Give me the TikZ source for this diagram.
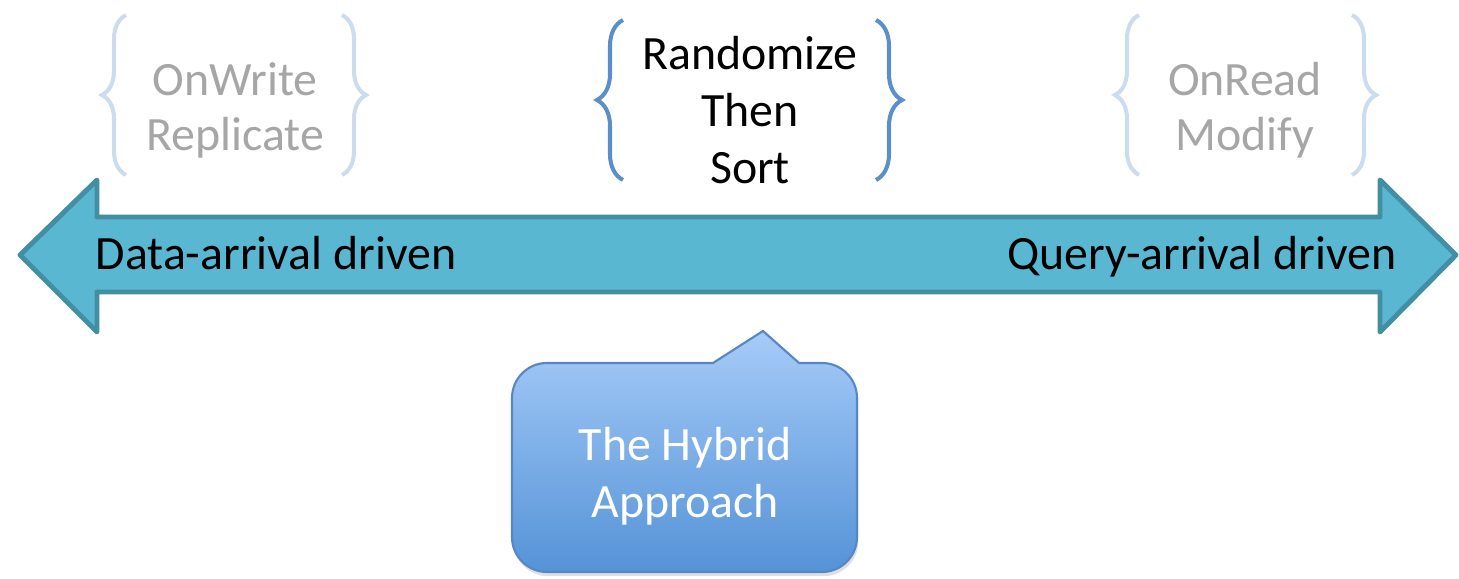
\documentclass[tikz,border=0pt]{standalone}
\usepackage{fontspec}
\setmainfont{Carlito}
\usepackage{tikz}
\usetikzlibrary{
    decorations.pathreplacing,
    shadows,
    calc,
    positioning
}
\definecolor{arrowfill}{HTML}{5AB7D2}
\definecolor{arrowline}{HTML}{418FA1}
\definecolor{bracedark}{HTML}{5A8FCB}
\definecolor{bracelight}{HTML}{CCDCEF}
\definecolor{fadedgray}{HTML}{A6A6A6}
\definecolor{callouttop}{HTML}{A6CBF8}
\definecolor{calloutbottom}{HTML}{5593D7}
\definecolor{calloutline}{HTML}{5687C4}
\tikzset{
    arrowbar/.style={fill=arrowfill, draw=arrowline, line width=1.4pt, line join=round},
    sidelabel/.style={font=\fontsize{13.6}{16.2}\selectfont, inner sep=0pt},
    midtext/.style={font=\fontsize{13.6}{16.2}\selectfont, align=center, inner sep=0pt},
    fadedtext/.style={font=\fontsize{13.6}{15.6}\selectfont, align=center, inner sep=0pt, text=fadedgray},
    midbrace/.style={draw=bracedark, line width=1.15pt, decorate, decoration={brace, amplitude=0.26cm}},
    fadedbrace/.style={draw=bracelight, line width=1.15pt, decorate, decoration={brace, amplitude=0.24cm}},
    callout/.style={draw=calloutline, line width=0.6pt, top color=callouttop, bottom color=calloutbottom,
        drop shadow={opacity=0.25, shadow xshift=0.4pt, shadow yshift=-1.2pt}},
    callouttext/.style={font=\fontsize{13.6}{16.2}\selectfont, align=center, inner sep=0pt, text=white}
}

\begin{document}
\begin{tikzpicture}[x=0.01cm, y=0.01cm]
                        \useasboundingbox (0, 0) rectangle (1459, 579);
                        \path[arrowbar]
                        (20, 324) -- (97, 399) -- (97, 362) -- (1380, 362) -- (1380, 399) -- (1456, 324)
                        -- (1380, 247) -- (1380, 287) -- (97, 287) -- (97, 247) -- cycle;
                        \node[sidelabel, anchor=base west] (dataarrival) at (95, 309) {Data-arrival driven};
                        \node[sidelabel, anchor=base east] (queryarrival) at (1397, 309) {Query-arrival driven};
                        \node[fadedtext] (onwrite) at (235, 469) {OnWrite\\Replicate};
                        \node[midtext] (randomize) at (750, 469) {Randomize\\Then\\Sort};
                        \node[fadedtext] (onread) at (1245, 469) {OnRead\\Modify};
                        \draw[fadedbrace] (126, 404) -- (126, 564);
                        \draw[fadedbrace] (342, 564) -- (342, 404);
                        \draw[midbrace] (623, 399) -- (623, 559);
                        \draw[midbrace] (876, 559) -- (876, 399);
                        \draw[fadedbrace] (1139, 404) -- (1139, 564);
                        \draw[fadedbrace] (1352, 564) -- (1352, 404);
                        \path[callout]
                        (713, 216) -- (763, 248) -- (799, 216) -- (822, 216)
                        arc[start angle=90, end angle=0, radius=0.35cm] -- (857, 42)
                        arc[start angle=0, end angle=-90, radius=0.35cm] -- (547, 7)
                        arc[start angle=270, end angle=180, radius=0.35cm] -- (512, 181)
                        arc[start angle=180, end angle=90, radius=0.35cm] -- cycle;
                        \node[callouttext] (hybrid) at (685, 103) {The Hybrid\\Approach};
                    \end{tikzpicture}
\end{document}
